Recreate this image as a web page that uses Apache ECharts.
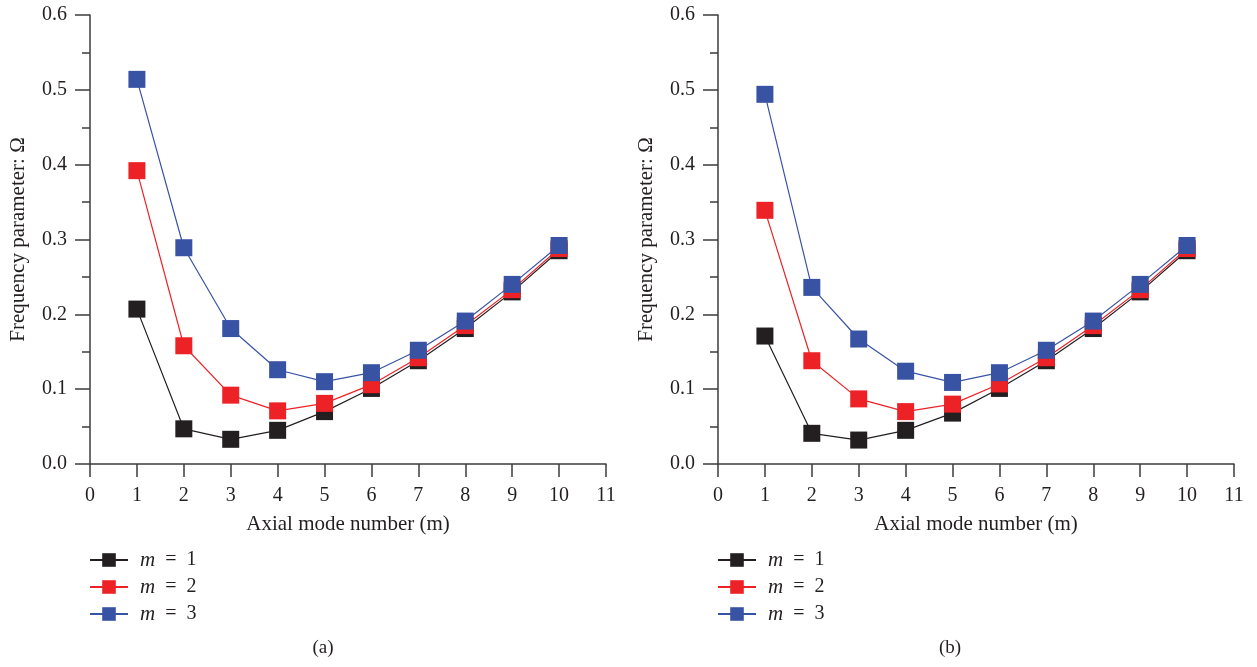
<!DOCTYPE html>
<html>
<head>
<meta charset="utf-8">
<script src="https://cdn.jsdelivr.net/npm/echarts@6/dist/echarts.min.js"></script>
<style>
html,body{margin:0;padding:0;background:#fff;}
#chart{width:1257px;height:667px;}
</style>
</head>
<body>
<div id="chart"></div>
<script>
const xValues = [1, 2, 3, 4, 5, 6, 7, 8, 9, 10];
const seriesNames = ['m = 1', 'm = 2', 'm = 3'];
const a_m1 = [0.207, 0.047, 0.033, 0.045, 0.070, 0.101, 0.138, 0.181, 0.230, 0.285];
const a_m2 = [0.392, 0.158, 0.092, 0.071, 0.081, 0.106, 0.142, 0.185, 0.233, 0.288];
const a_m3 = [0.514, 0.289, 0.181, 0.126, 0.110, 0.122, 0.152, 0.191, 0.240, 0.292];
const b_m1 = [0.171, 0.041, 0.032, 0.045, 0.068, 0.101, 0.138, 0.181, 0.230, 0.285];
const b_m2 = [0.339, 0.138, 0.087, 0.070, 0.080, 0.107, 0.142, 0.185, 0.233, 0.288];
const b_m3 = [0.494, 0.236, 0.167, 0.124, 0.109, 0.122, 0.152, 0.191, 0.240, 0.292];
const panelLabels = ['(a)', '(b)'];
const xTitle = 'Axial mode number (m)';
const yTitle = 'Frequency parameter: Ω';

const colors = ['#231f20', '#ed2227', '#3953a4'];
const FONT = '"Liberation Serif", "DejaVu Serif", serif';
const TXT = '#231f20';
const AX = '#3d3d3d';

const chart = echarts.init(document.getElementById('chart'));

function pairs(vals) { return xValues.map((x, i) => [x, vals[i]]); }

function xAxis(idx) {
  return {
    type: 'value', gridIndex: idx, min: 0, max: 11, interval: 1,
    name: xTitle, nameLocation: 'middle', nameGap: 50,
    nameTextStyle: { fontFamily: FONT, fontSize: 21, color: TXT },
    axisLine: { show: true, lineStyle: { color: AX, width: 1.5 } },
    axisTick: { show: true, length: 13, lineStyle: { color: AX, width: 1.5 } },
    axisLabel: { fontFamily: FONT, fontSize: 20, color: TXT, margin: 22 },
    splitLine: { show: false }
  };
}
function yAxis(idx) {
  return {
    type: 'value', gridIndex: idx, min: 0, max: 0.6, interval: 0.1,
    name: yTitle, nameLocation: 'middle', nameGap: 61,
    nameTextStyle: { fontFamily: FONT, fontSize: 21, color: TXT },
    axisLine: { show: true, lineStyle: { color: AX, width: 1.5 } },
    axisTick: { show: true, length: 15, lineStyle: { color: AX, width: 1.5 } },
    minorTick: { show: true, splitNumber: 2, length: 8, lineStyle: { color: AX, width: 1.5 } },
    axisLabel: { fontFamily: FONT, fontSize: 20, color: TXT, margin: 23,
      formatter: v => v.toFixed(1) },
    splitLine: { show: false }
  };
}

function mkSeries(name, data, ci, idx) {
  return {
    name: name, type: 'line', xAxisIndex: idx, yAxisIndex: idx,
    data: pairs(data), symbol: 'rect', symbolSize: 17,
    lineStyle: { color: colors[ci], width: 1.2 },
    itemStyle: { color: colors[ci] },
    emphasis: { disabled: true }, animation: false
  };
}

function legend(left) {
  return {
    left: left, top: 549, orient: 'vertical', padding: 0,
    itemWidth: 38, itemHeight: 17, itemGap: 5,
    data: seriesNames,
    formatter: n => '{i|m}' + n.slice(1).replace(/=/, ' = '),
    textStyle: { fontFamily: FONT, fontSize: 20, color: TXT, lineHeight: 22,
      padding: [0, 0, 0, 7],
      rich: { i: { fontFamily: FONT, fontStyle: 'italic', fontSize: 21, color: TXT } } }
  };
}

chart.setOption({
  animation: false,
  grid: [
    { left: 90, width: 516, top: 15, height: 449 },
    { left: 718, width: 516, top: 15, height: 449 }
  ],
  xAxis: [xAxis(0), xAxis(1)],
  yAxis: [yAxis(0), yAxis(1)],
  legend: [legend(89), legend(717)],
  graphic: [
    { type: 'text', x: 323, y: 648, style: { text: panelLabels[0], font: '19px ' + FONT, fill: TXT, textAlign: 'center', textVerticalAlign: 'middle' } },
    { type: 'text', x: 950, y: 648, style: { text: panelLabels[1], font: '19px ' + FONT, fill: TXT, textAlign: 'center', textVerticalAlign: 'middle' } }
  ],
  series: [
    mkSeries(seriesNames[0], a_m1, 0, 0),
    mkSeries(seriesNames[1], a_m2, 1, 0),
    mkSeries(seriesNames[2], a_m3, 2, 0),
    mkSeries(seriesNames[0], b_m1, 0, 1),
    mkSeries(seriesNames[1], b_m2, 1, 1),
    mkSeries(seriesNames[2], b_m3, 2, 1)
  ]
});
</script>
</body>
</html>
